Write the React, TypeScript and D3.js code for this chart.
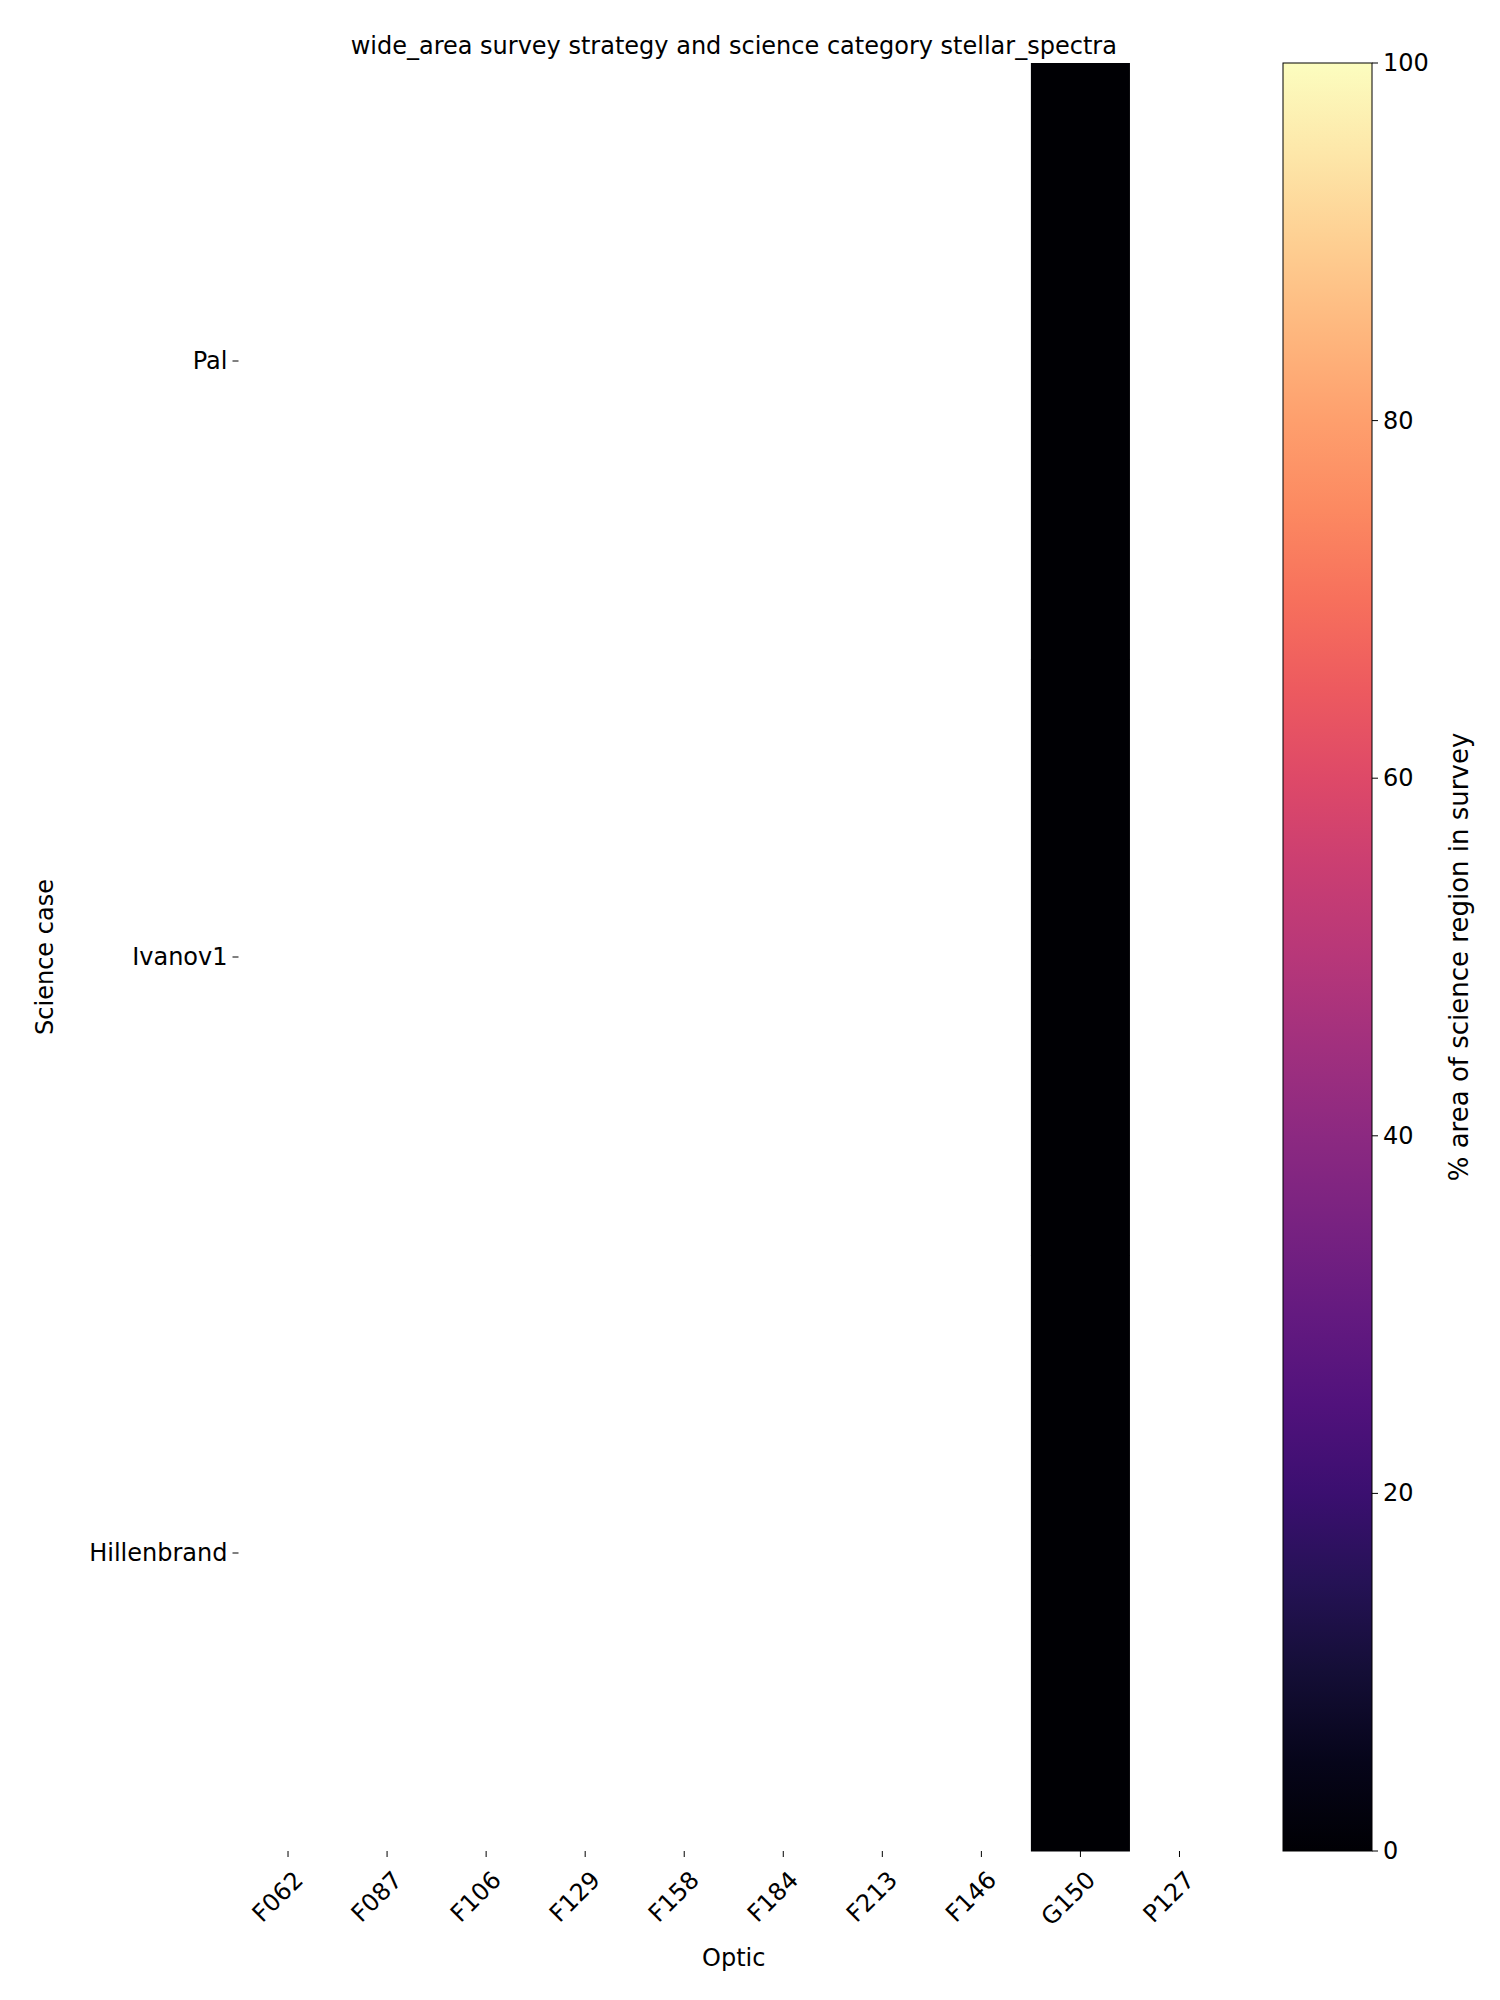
import React from "react";
import * as d3 from "d3";

const optics = ["F062", "F087", "F106", "F129", "F158", "F184", "F213", "F146", "G150", "P127"];
const cases = ["Pal", "Ivanov1", "Hillenbrand"];
// null = no data (white)
const values: (number | null)[][] = [
  [null, null, null, null, null, null, null, null, 0, null],
  [null, null, null, null, null, null, null, null, 0, null],
  [null, null, null, null, null, null, null, null, 0, null],
];
const cbTicks = [0, 20, 40, 60, 80, 100];

export default function App() {
  const W = 1500, H = 2000;
  const L = 238.5, R = 1229, T = 63, B = 1851;
  const x = d3.scaleBand<string>().domain(optics).range([L, R]);
  const y = d3.scaleBand<string>().domain(cases).range([T, B]);
  const color = (v: number) => d3.interpolateMagma(v / 100);
  const cbL = 1283, cbR = 1372;
  const cy = d3.scaleLinear().domain([0, 100]).range([B, T]);
  const stops = d3.range(0, 1.0001, 0.05);
  const font = "DejaVu Sans";
  return (
    <svg width={W} height={H} style={{ display: "block", margin: -8 }} fontFamily={font}>
      <defs>
        <linearGradient id="cb" x1="0" y1="1" x2="0" y2="0">
          {stops.map((s) => (
            <stop key={s} offset={s} stopColor={d3.interpolateMagma(s)} />
          ))}
        </linearGradient>
      </defs>
      <rect width={W} height={H} fill="white" />
      {values.map((row, i) =>
        row.map((v, j) =>
          v === null ? null : (
            <rect key={`${i}-${j}`} x={x(optics[j])} y={y(cases[i])} width={x.bandwidth()} height={y.bandwidth() + 0.5} fill={color(v)} />
          )
        )
      )}
      {optics.map((o) => {
        const cx = x(o)! + x.bandwidth() / 2;
        return (
          <g key={o}>
            <line x1={cx} x2={cx} y1={B} y2={B + 6} stroke="black" strokeWidth={1} />
            <text transform={`translate(${cx + 4},${B + 18}) rotate(-45)`} textAnchor="end" dominantBaseline="hanging" fontSize={24}>{o}</text>
          </g>
        );
      })}
      {cases.map((c) => {
        const cyy = y(c)! + y.bandwidth() / 2;
        return (
          <g key={c}>
            <line x1={L - 6} x2={L} y1={cyy} y2={cyy} stroke="black" strokeWidth={1} />
            <text x={L - 11} y={cyy} textAnchor="end" dominantBaseline="central" fontSize={24}>{c}</text>
          </g>
        );
      })}
      <text x={(L + R) / 2} y={1966} textAnchor="middle" fontSize={24}>Optic</text>
      <text transform={`translate(53,${(T + B) / 2}) rotate(-90)`} textAnchor="middle" fontSize={24}>Science case</text>
      <text x={(L + R) / 2} y={54} textAnchor="middle" fontSize={24}>wide_area survey strategy and science category stellar_spectra</text>
      <rect x={cbL} y={T} width={cbR - cbL} height={B - T} fill="url(#cb)" stroke="black" strokeWidth={1} />
      {cbTicks.map((t) => (
        <g key={t}>
          <line x1={cbR} x2={cbR + 6} y1={cy(t)} y2={cy(t)} stroke="black" />
          <text x={cbR + 11} y={cy(t)} dominantBaseline="central" fontSize={24}>{t}</text>
        </g>
      ))}
      <text transform={`translate(1468,${(T + B) / 2}) rotate(-90)`} textAnchor="middle" fontSize={26}>% area of science region in survey</text>
    </svg>
  );
}
